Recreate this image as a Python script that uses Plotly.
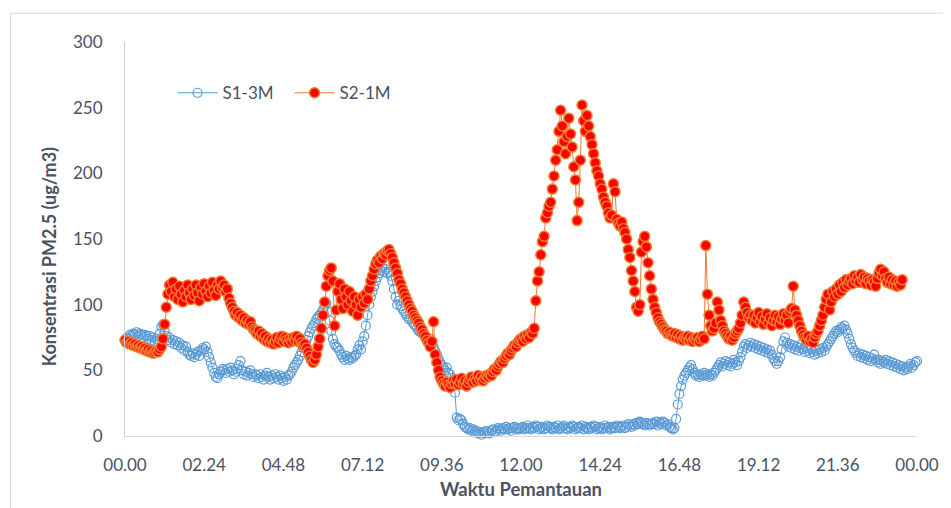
import plotly.graph_objects as go

# time in minutes from 00.00, 3-minute sampling
tick_vals = [0, 144, 288, 432, 576, 720, 864, 1008, 1152, 1296, 1440]
tick_text = ["00.00", "02.24", "04.48", "07.12", "09.36", "12.00",
             "14.24", "16.48", "19.12", "21.36", "00.00"]
y_ticks = [0, 50, 100, 150, 200, 250, 300]
step_min = 3

s1_name = "S1-3M"
s1_values = [
    73, 75, 74, 77, 76, 78, 77, 79, 76, 78, 77, 75, 77, 76, 74, 76, 73, 75, 72, 74,   # 00
    72, 78, 83, 85, 80, 76, 73, 75, 71, 73, 70, 72, 69, 71, 67, 69, 65, 68, 64, 62,   # 01
    61, 63, 60, 62, 64, 61, 65, 67, 66, 68, 64, 60, 56, 52, 48, 45, 44, 47, 49, 51,   # 02
    50, 48, 51, 49, 52, 50, 47, 49, 51, 54, 57, 50, 47, 49, 46, 48, 50, 47, 45, 47,   # 03
    46, 44, 47, 45, 43, 46, 48, 45, 43, 46, 44, 47, 45, 43, 46, 44, 42, 45, 43, 46,   # 04
    47, 49, 52, 54, 56, 58, 61, 64, 67, 70, 73, 76, 79, 82, 84, 86, 89, 91, 92, 94,   # 05
    96, 99, 101, 95, 88, 80, 74, 70, 68, 67, 65, 62, 60, 58, 61, 59, 58, 60, 59, 61,  # 06
    62, 66, 69, 66, 72, 76, 84, 92, 100, 106, 110, 114, 118, 121, 124, 126, 128, 125, 127, 124,  # 07
    125, 122, 118, 112, 106, 100, 103, 99, 97, 95, 93, 91, 89, 90, 87, 85, 84, 82, 80, 79,  # 08
    78, 77, 75, 73, 72, 74, 71, 68, 65, 62, 59, 56, 54, 52, 50, 52, 48, 47, 44, 38,   # 09
    33, 14, 12, 13, 12, 9, 7, 6, 5, 6, 4, 5, 3, 4, 2, 3, 1, 3, 2, 4,                  # 10
    3, 2, 4, 5, 3, 4, 6, 5, 4, 6, 5, 7, 5, 6, 4, 6, 7, 5, 6, 5,                       # 11
    6, 7, 5, 6, 8, 6, 5, 7, 6, 8, 7, 5, 6, 7, 5, 6, 8, 7, 6, 5,                       # 12
    7, 6, 8, 5, 6, 7, 8, 6, 5, 7, 6, 8, 7, 5, 6, 7, 6, 8, 5, 7,                       # 13
    6, 5, 7, 6, 8, 7, 5, 6, 7, 5, 6, 8, 6, 7, 5, 6, 7, 6, 8, 7,                       # 14
    6, 7, 8, 6, 7, 9, 8, 7, 9, 8, 10, 9, 11, 10, 9, 8, 10, 9, 8, 9,                   # 15
    10, 9, 11, 8, 10, 9, 11, 10, 8, 9, 7, 6, 5, 6, 13, 24, 32, 38, 43, 46,            # 16
    48, 50, 52, 54, 51, 48, 46, 47, 45, 47, 46, 48, 46, 47, 45, 47, 46, 48, 50, 52,   # 17
    54, 56, 53, 55, 57, 54, 56, 53, 55, 58, 56, 54, 57, 60, 64, 68, 70, 67, 69, 71,   # 18
    68, 70, 67, 69, 66, 68, 65, 67, 64, 66, 63, 65, 62, 59, 57, 55, 57, 60, 66, 72,   # 19
    75, 71, 68, 70, 67, 69, 66, 68, 65, 67, 70, 66, 64, 67, 65, 63, 66, 64, 62, 65,   # 20
    63, 66, 64, 67, 65, 68, 70, 72, 74, 76, 78, 80, 79, 81, 83, 82, 84, 81, 78, 74,   # 21
    70, 67, 65, 63, 61, 63, 60, 62, 59, 61, 58, 60, 57, 59, 62, 58, 56, 58, 55, 57,   # 22
    56, 58, 55, 57, 54, 56, 53, 55, 52, 54, 51, 53, 50, 52, 51, 53, 55, 52, 54, 56,   # 23
    57,
]

s2_name = "S2-1M"
s2_values = [
    73, 71, 72, 70, 71, 69, 70, 68, 69, 67, 68, 66, 67, 65, 66, 64, 65, 63, 64, 65,   # 00
    64, 66, 68, 74, 85, 98, 108, 115, 110, 117, 106, 112, 104, 114, 108, 102, 111, 106, 115, 109,  # 01
    104, 112, 107, 115, 109, 103, 113, 108, 116, 110, 106, 114, 109, 117, 111, 107, 115, 112, 118, 113,  # 02
    115, 110, 112, 105, 101, 98, 95, 92, 94, 90, 92, 88, 90, 86, 88, 85, 87, 83, 81, 80,  # 03
    78, 80, 76, 78, 74, 76, 72, 74, 71, 73, 70, 72, 75, 71, 74, 76, 72, 75, 73, 71,   # 04
    74, 72, 75, 73, 76, 72, 74, 71, 69, 70, 67, 64, 61, 58, 56, 58, 62, 68, 74, 82,   # 05
    92, 102, 114, 122, 126, 128, 118, 84, 96, 110, 116, 104, 97, 112, 106, 100, 110, 103, 95, 106,  # 06
    100, 92, 104, 98, 106, 101, 108, 104, 112, 118, 122, 127, 131, 134, 132, 137, 135, 139, 138, 141,  # 07
    142, 139, 136, 132, 128, 124, 119, 116, 112, 109, 106, 103, 100, 97, 95, 92, 90, 88, 86, 83,  # 08
    81, 78, 76, 73, 71, 68, 72, 87, 62, 56, 50, 45, 42, 40, 38, 41, 39, 37, 40, 42,   # 09
    40, 43, 39, 41, 44, 40, 42, 38, 41, 43, 45, 41, 44, 42, 46, 43, 45, 42, 44, 46,   # 10
    45, 47, 46, 49, 51, 50, 53, 55, 57, 56, 59, 61, 63, 62, 65, 67, 69, 68, 71, 73,   # 11
    74, 72, 76, 74, 77, 75, 79, 78, 82, 103, 118, 125, 138, 148, 152, 166, 170, 175, 178, 188,  # 12
    198, 210, 218, 232, 248, 236, 224, 215, 228, 242, 230, 220, 205, 195, 164, 178, 210, 252, 240, 232,  # 13
    244, 236, 228, 222, 215, 208, 202, 198, 192, 188, 182, 178, 175, 170, 166, 168, 192, 186, 165, 162,  # 14
    160, 163, 158, 155, 150, 142, 136, 126, 118, 110, 98, 95, 100, 140, 148, 152, 144, 132, 122, 112,  # 15
    104, 98, 94, 90, 87, 85, 83, 81, 80, 78, 79, 77, 76, 78, 75, 77, 74, 76, 73, 75,  # 16
    74, 76, 73, 75, 72, 74, 73, 75, 72, 74, 76, 74, 145, 108, 92, 84, 80, 82, 86, 102,  # 17
    96, 88, 84, 80, 78, 76, 74, 76, 73, 75, 78, 80, 82, 86, 92, 102, 98, 94, 90, 92,  # 18
    88, 92, 86, 90, 94, 87, 91, 85, 89, 93, 86, 90, 84, 88, 92, 87, 91, 85, 89, 93,   # 19
    88, 92, 86, 95, 97, 114, 96, 92, 88, 84, 80, 77, 75, 73, 76, 72, 74, 71, 75, 78,  # 20
    80, 84, 88, 92, 98, 104, 108, 96, 102, 110, 106, 112, 108, 115, 110, 117, 113, 119, 115, 118,  # 21
    120, 116, 122, 118, 121, 117, 123, 119, 121, 116, 120, 118, 115, 119, 117, 114, 120, 124, 127, 122,  # 22
    125, 120, 117, 121, 116, 119, 115, 118, 114, 117, 115, 119,                        # 23
]

x_title = "Waktu Pemantauan"
y_title = "Konsentrasi PM2.5 (ug/m3)"

s1_x = [step_min * i for i in range(len(s1_values))]
s2_x = [step_min * i for i in range(len(s2_values))]

FONT = "Lato"
TXT = "#4a5263"

fig = go.Figure()
fig.add_trace(go.Scatter(
    x=s1_x, y=s1_values, name=s1_name, mode="lines+markers",
    line=dict(color="#5B9BD5", width=1),
    marker=dict(symbol="circle-open", size=9, color="#5B9BD5",
                line=dict(width=1.2, color="#5B9BD5")),
    cliponaxis=False,
))
fig.add_trace(go.Scatter(
    x=s2_x, y=s2_values, name=s2_name, mode="lines+markers",
    line=dict(color="#ED7D31", width=1),
    marker=dict(symbol="circle", size=10, color="#FF0000",
                line=dict(width=1.5, color="#ED7D31")),
    cliponaxis=False,
))

fig.update_layout(
    width=943, height=500,
    margin=dict(l=117, r=30, t=34, b=71),
    paper_bgcolor="white", plot_bgcolor="white",
    font=dict(family=FONT, size=17, color=TXT),
    showlegend=True,
    legend=dict(orientation="h", x=0.060, y=0.87, xanchor="left", yanchor="middle",
                bgcolor="rgba(0,0,0,0)", font=dict(size=17, color=TXT),
                itemwidth=40, tracegroupgap=0, entrywidth=62),
    shapes=[dict(type="rect", xref="paper", yref="paper",
                 x0=-0.1445, x1=1.2, y0=-0.5, y1=1.073,
                 line=dict(color="#D9D9D9", width=1), layer="below")],
    annotations=[dict(text="<b>" + y_title + "</b>", textangle=-90,
                      xref="paper", yref="paper", x=-0.0967, y=0.455,
                      xanchor="center", yanchor="middle", showarrow=False,
                      font=dict(size=18, color=TXT))],
)
fig.update_xaxes(
    range=[0, 1440], tickmode="array", tickvals=tick_vals, ticktext=tick_text,
    showgrid=False, zeroline=False, showline=True, linecolor="#D9D9D9", linewidth=1,
    ticks="", ticklabelstandoff=14,
    title=dict(text="<b>" + x_title + "</b>", font=dict(size=18.5, color=TXT), standoff=8),
)
fig.update_yaxes(
    range=[0, 300], tickmode="array", tickvals=y_ticks,
    showgrid=False, zeroline=False, showline=True, linecolor="#C5CEDA", linewidth=1,
    ticks="", ticklabelstandoff=18,
)

fig.write_html("out.html")
